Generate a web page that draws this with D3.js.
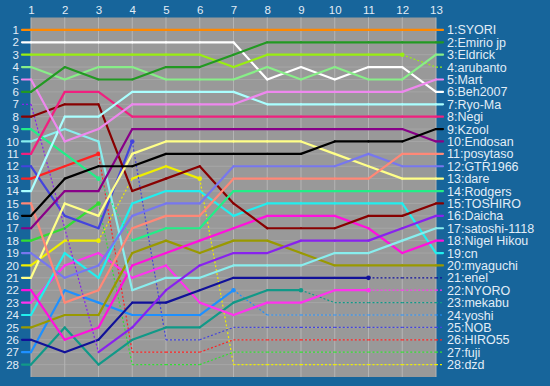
<!DOCTYPE html>
<html>
<head>
<meta charset="utf-8">
<script src="https://cdn.jsdelivr.net/npm/d3@7"></script>
<style>
  html, body { margin: 0; padding: 0; background: #17659b; }
  svg { display: block; }
  text { font-family: "Liberation Sans", Arial, sans-serif; }
</style>
</head>
<body>
<svg id="chart" width="550" height="386"></svg>
<script>
const ROUNDS = d3.range(1, 14);
const RANK_SLOTS = d3.range(1, 29);

// players in final order (round 13)
const PLAYERS = [
  "SYORI", "Emirio jp", "Eldrick", "arubanto", "Mart", "Beh2007", "Ryo-Ma",
  "Negi", "Kzool", "Endosan", "posytaso", "GTR1966", "dare", "Rodgers",
  "TOSHIRO", "Daicha", "satoshi-1118", "Nigel Hikou", "cn", "myaguchi",
  "enel", "NYORO", "mekabu", "yoshi", "NOB", "HIRO55", "fuji", "dzd"
];

// rank per round, null = no point drawn
const RANKS = [
  [1, 1, 1, 1, 1, 1, 1, 1, 1, 1, 1, 1, 1],
  [6, 4, 5, 5, 4, 4, 3, 2, 2, 2, 2, 2, 2],
  [4, 5, 4, 4, 5, 5, 5, 4, 5, 4, 5, 5, 3],
  [3, 3, 3, 3, 3, 3, 4, 3, 3, 3, 3, 3, 4],
  [5, 10, 9, 7, 7, 7, 7, 6, 6, 6, 6, 6, 5],
  [2, 2, 2, 2, 2, 2, 2, 5, 4, 5, 4, 4, 6],
  [14, 8, 8, 6, 6, 6, 6, 7, 7, 7, 7, 7, 7],
  [11, 6, 6, 8, 8, 8, 8, 8, 8, 8, 8, 8, 8],
  [16, 13, 12, 12, 11, 11, 11, 11, 11, 10, 10, 10, 9],
  [17, 14, 14, 9, 9, 9, 9, 9, 9, 9, 9, 9, 10],
  [15, 23, 22, 17, 16, 16, 13, 13, 13, 13, 13, 11, 11],
  [19, 21, 20, 16, 15, 15, 12, 12, 12, 12, 11, 12, 12],
  [21, 15, 16, 11, 10, 10, 10, 10, 10, 11, 12, 13, 13],
  [9, 11, 13, 18, 17, 17, 14, 14, 14, 14, 14, 14, 14],
  [8, 7, 7, 14, 13, 12, 15, 17, 17, 17, 16, 16, 15],
  [7, null, 27, 25, 22, 20, 19, 19, 18, 18, 18, 17, 16],
  [10, 9, 10, 22, 21, 21, 20, 20, 20, 19, 19, 18, 17],
  [22, 26, 25, 20, 19, 18, 17, 16, 16, 16, 17, 19, 18],
  [24, 19, 21, 15, 14, 14, 16, 15, 15, 15, 15, 15, 19],
  [25, 24, 24, 19, 18, 19, 18, 18, 19, 20, 20, 20, 20],
  [26, 27, 26, 23, 23, 22, 21, 21, 21, 21, 21, 21, 21],
  [23, 20, 19, 21, 20, 23, 24, 23, 23, 22, 22, 22, 22],
  [28, 25, 28, 26, 25, 25, 23, 22, 22, 23, 23, 23, 23],
  [27, 22, 23, 24, 24, 24, 22, 24, 24, 24, 24, 24, 24],
  [12, 16, 17, 10, 26, 26, 25, 25, 25, 25, 25, 25, 25],
  [13, 12, 11, 27, 27, 27, 26, 26, 26, 26, 26, 26, 26],
  [18, 17, 15, 28, 28, 28, 27, 27, 27, 27, 27, 27, 27],
  [20, 18, 18, 13, 12, 13, 28, 28, 28, 28, 28, 28, 28]
];

// rounds the player sat out (line into that round is dotted)
const MISSED = [
  [], [], [], [13], [], [], [], [], [], [], [], [], [], [4],
  [], [1, 2, 3], [], [], [], [],
  [12, 13], [12, 13], [10, 11, 12, 13], [8, 9, 10, 11, 12, 13],
  [5, 6, 7, 8, 9, 10, 11, 12, 13],
  [4, 5, 6, 7, 8, 9, 10, 11, 12, 13],
  [4, 5, 6, 7, 8, 9, 10, 11, 12, 13],
  [4, 7, 8, 9, 10, 11, 12, 13]
];

const LINE_COLORS = [
  "#ff8800", "#229922", "#88ee88", "#99ee11", "#ee88ee", "#ffffff", "#aaffff",
  "#f0207f", "#000000", "#880088", "#ff8877", "#7777ee", "#ffff88", "#22ee88",
  "#880000", "#8822ee", "#88eeee", "#ff11dd", "#22eeee", "#999900",
  "#111199", "#ff33ee", "#119988", "#1e90ff", "#4444dd", "#ff2222", "#33dd33", "#eeee00"
];

const BG = "#17659b";
const PLOT_FILL = "#999999";
const GRID = "#a6a6a6";
const TEXT = "#e2edf7";

const svg = d3.select("#chart");
const PLOT = { left: 31, right: 436, top: 17.5, bottom: 377 };

const x = d3.scalePoint().domain(ROUNDS).range([PLOT.left, PLOT.right]);
const y = d3.scalePoint().domain(RANK_SLOTS).range([PLOT.top, PLOT.bottom]).padding(1);

svg.append("rect").attr("width", 550).attr("height", 386).attr("fill", BG);
svg.append("rect")
  .attr("x", PLOT.left).attr("y", PLOT.top)
  .attr("width", PLOT.right - PLOT.left).attr("height", PLOT.bottom - PLOT.top)
  .attr("fill", PLOT_FILL);

const grid = svg.append("g");
grid.selectAll("line.h").data(RANK_SLOTS).join("line")
  .attr("x1", PLOT.left).attr("x2", PLOT.right)
  .attr("y1", (d) => y(d)).attr("y2", (d) => y(d))
  .attr("stroke", GRID).attr("stroke-width", 1);
grid.selectAll("line.v").data(ROUNDS).join("line")
  .attr("x1", (d) => x(d)).attr("x2", (d) => x(d))
  .attr("y1", PLOT.top).attr("y2", PLOT.bottom)
  .attr("stroke", "#b4b4b4").attr("stroke-width", 1);

// axes
const topAxis = svg.append("g")
  .attr("transform", `translate(0,${PLOT.top})`)
  .call(d3.axisTop(x).tickSize(0).tickPadding(4));
const leftAxis = svg.append("g")
  .attr("transform", `translate(${PLOT.left},0)`)
  .call(d3.axisLeft(y).tickSize(0).tickPadding(12));
[topAxis, leftAxis].forEach((g) => {
  g.select(".domain").remove();
  g.selectAll("text").attr("fill", TEXT).attr("font-size", 11.5)
    .attr("font-family", "Liberation Sans, Arial, sans-serif");
});

const lines = svg.append("g").attr("fill", "none");

function drawSeg(x1, y1, x2, y2, color, dotted) {
  lines.append("line")
    .attr("x1", x1).attr("y1", y1).attr("x2", x2).attr("y2", y2)
    .attr("stroke", color)
    .attr("stroke-width", dotted ? 1.2 : 2.2)
    .attr("stroke-dasharray", dotted ? "2,2" : null)
    .attr("stroke-linecap", dotted ? "butt" : "round");
}

// draw from last place to first so leaders sit on top
for (let p = PLAYERS.length - 1; p >= 0; p--) {
  const color = LINE_COLORS[p];
  const missed = new Set(MISSED[p]);
  const pts = ROUNDS.map((r, i) => ({ r, rank: RANKS[p][i] })).filter((d) => d.rank != null);

  const first = pts[0];
  const last = pts[pts.length - 1];
  drawSeg(PLOT.left - 9, y(first.rank), x(first.r), y(first.rank), color, missed.has(1));

  for (let i = 1; i < pts.length; i++) {
    const a = pts[i - 1];
    const b = pts[i];
    drawSeg(x(a.r), y(a.rank), x(b.r), y(b.rank), color, missed.has(b.r));
    if (!missed.has(a.r) && missed.has(b.r)) {
      lines.append("circle").attr("cx", x(a.r)).attr("cy", y(a.rank)).attr("r", 2.3)
        .attr("fill", color);
    }
  }

  drawSeg(x(last.r), y(last.rank), PLOT.right + 7, y(last.rank), color, missed.has(13));
}

// right-hand labels
svg.append("g").selectAll("text")
  .data(PLAYERS)
  .join("text")
  .attr("x", PLOT.right + 11)
  .attr("y", (d, i) => y(RANKS[i][12]))
  .attr("dy", "0.36em")
  .attr("fill", TEXT)
  .attr("font-size", 12.5)
  .text((d, i) => `${RANKS[i][12]}:${d}`);
</script>
</body>
</html>
